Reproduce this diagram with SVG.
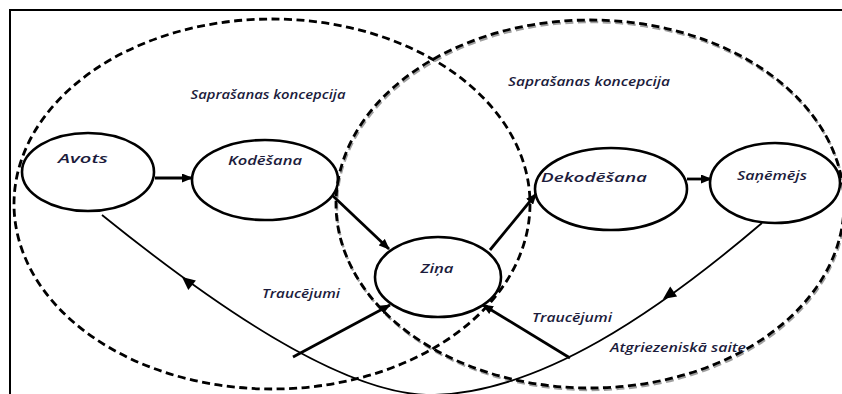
<svg xmlns="http://www.w3.org/2000/svg" width="842" height="394" viewBox="0 0 842 394">
<style>
.node{fill:none;stroke:#000;stroke-width:2.6}
.dash{fill:none;stroke:#000;stroke-width:2.8;stroke-dasharray:8 4.5}
.dashg{fill:none;stroke:#a0a0a0;stroke-width:2.4;stroke-dasharray:8 4.5}
.arr{fill:none;stroke:#000;stroke-width:2.8;marker-end:url(#ah)}
.fb{fill:none;stroke:#000;stroke-width:1.8}
.lbl{font-family:"Open Sans","DejaVu Sans",sans-serif;font-style:italic;font-weight:600;font-size:12px;fill:#1c1c3c;text-anchor:middle}
</style>
<defs>
<marker id="ah" markerUnits="userSpaceOnUse" markerWidth="11" markerHeight="9" refX="10" refY="4.5" orient="auto">
<path d="M0,0 L11,4.5 L0,9 z" fill="#000"/>
</marker>
</defs>
<rect x="0" y="0" width="842" height="394" fill="#fff"/>
<rect x="10" y="10" width="900" height="500" fill="none" stroke="#000" stroke-width="2"/>
<g id="scope-left">
<ellipse class="dash" cx="272" cy="204" rx="258" ry="185"/>
<text class="lbl" x="268" y="99" textLength="155" lengthAdjust="spacingAndGlyphs">Saprašanas koncepcija</text>
</g>
<g id="scope-right">
<ellipse class="dashg" cx="591" cy="206" rx="254" ry="184"/>
<ellipse class="dash" cx="590" cy="204" rx="254" ry="184"/>
<text class="lbl" x="589" y="86" textLength="162" lengthAdjust="spacingAndGlyphs">Saprašanas koncepcija</text>
</g>
<g id="avots">
<ellipse class="node" cx="88" cy="172" rx="66" ry="39"/>
<text class="lbl" x="83" y="163" textLength="50" lengthAdjust="spacingAndGlyphs">Avots</text>
</g>
<g id="kodesana">
<ellipse class="node" cx="265" cy="180" rx="73" ry="40"/>
<text class="lbl" x="265" y="165" textLength="74" lengthAdjust="spacingAndGlyphs">Kodēšana</text>
</g>
<g id="zina">
<ellipse class="node" cx="438" cy="277" rx="63" ry="40"/>
<text class="lbl" x="437" y="273" textLength="33" lengthAdjust="spacingAndGlyphs">Ziņa</text>
</g>
<g id="dekodesana">
<ellipse class="node" cx="611" cy="189" rx="76" ry="41"/>
<text class="lbl" x="594" y="182" textLength="106" lengthAdjust="spacingAndGlyphs">Dekodēšana</text>
</g>
<g id="sanemejs">
<ellipse class="node" cx="775" cy="183" rx="65" ry="40"/>
<text class="lbl" x="772" y="180" textLength="70" lengthAdjust="spacingAndGlyphs">Saņēmējs</text>
</g>
<g id="connectors">
<line class="arr" x1="155" y1="178" x2="192" y2="178"/>
<line class="arr" x1="687" y1="179" x2="711" y2="179"/>
<line class="arr" x1="333" y1="196" x2="389" y2="249"/>
<line class="arr" x1="490" y1="250" x2="536" y2="194"/>
<line class="arr" x1="293" y1="357" x2="390" y2="305"/>
<line class="arr" x1="570" y1="358" x2="483" y2="305"/>
<path class="fb" d="M102,215 C210,302 340,394 430,395 C540,394 660,310 762,223"/>
<polygon points="182,277 195.9,280.5 188.3,289.9" fill="#000"/>
<polygon points="663,299 677.1,296.4 670.2,286.6" fill="#000"/>
<text class="lbl" x="301" y="298" textLength="78" lengthAdjust="spacingAndGlyphs">Traucējumi</text>
<text class="lbl" x="572" y="322" textLength="80" lengthAdjust="spacingAndGlyphs">Traucējumi</text>
<text class="lbl" x="678" y="352" textLength="136" lengthAdjust="spacingAndGlyphs">Atgriezeniskā saite</text>
</g>
</svg>
